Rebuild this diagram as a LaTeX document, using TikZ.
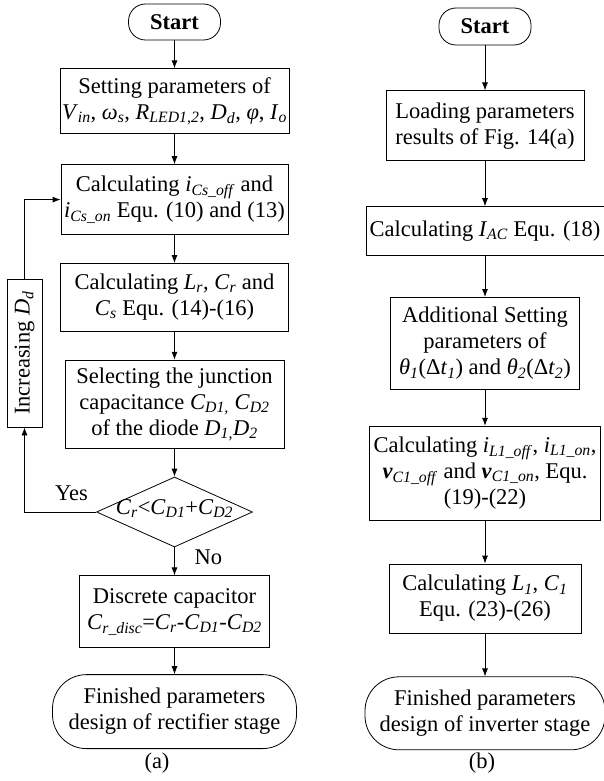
\documentclass[tikz,border=0pt]{standalone}
\usepackage{fontspec}
\setmainfont{Liberation Serif}
\usetikzlibrary{positioning, shapes.geometric, arrows.meta}
\newcommand{\vr}[2]{\textit{#1}\textsubscript{\textit{#2}}}

\begin{document}
\begin{tikzpicture}[
    x=1pt, y=-1pt,
    font=\fontsize{22.5}{26}\selectfont,
    box/.style={draw, line width=0.8pt, align=center, inner xsep=2pt, inner ysep=1pt},
    term/.style={box, rounded corners=17pt},
    decision/.style={diamond, draw, line width=0.8pt, aspect=2.2, inner sep=0pt, minimum width=156pt, minimum height=70pt},
    arrow/.style={-{Latex[length=8pt,width=6pt]}, line width=0.8pt},
    lbl/.style={inner sep=0pt}
]
\useasboundingbox (0,0) rectangle (603,781);

% (a) rectifier stage
\node[term, minimum width=92pt, minimum height=36pt] (startA) at (174.5,22) {\textbf{Start}};
\node[box, below=28pt of startA, minimum width=227pt, minimum height=65pt] (setA) {Setting parameters of\\\vr{V}{in}, \vr{ω}{s}, \vr{R}{LED1,2}, \vr{D}{d}, \textit{φ}, \vr{I}{o}};
\node[box, below=30pt of setA, minimum width=227pt, minimum height=70pt] (calcA) {Calculating \vr{i}{Cs\_off} and\\\vr{i}{Cs\_on} Equ. (10) and (13)};
\node[box, below=28pt of calcA, minimum width=228pt, minimum height=68pt] (lrA) {Calculating \vr{L}{r}, \vr{C}{r} and\\\vr{C}{s} Equ. (14)-(16)};
\node[box, below=28pt of lrA, minimum width=219pt, minimum height=88pt] (junctA) {Selecting the junction\\capacitance \vr{C}{D1,} \vr{C}{D2}\\of the diode \vr{D}{1,}\vr{D}{2}};
\node[decision, below=28pt of junctA] (decA) {\raisebox{-5pt}{\smash{\makebox[60pt]{\vr{C}{r}<\vr{C}{D1}+\vr{C}{D2}}}}};
\node[box, below=28pt of decA, minimum width=190pt, minimum height=72pt] (discA) {Discrete capacitor\\\vr{C}{r\_disc}=\vr{C}{r}-\vr{C}{D1}-\vr{C}{D2}};
\node[box, rounded corners=34pt, below=26pt of discA, minimum width=244pt, minimum height=74pt] (endA) {Finished parameters\\design of rectifier stage};
\node[box, minimum width=35pt, minimum height=148pt] (incA) at (24.5,353) {\rotatebox{90}{Increasing \vr{D}{d}}};
\node[lbl, above left=11pt and 8pt of decA.west] (yesA) {Yes};
\node[lbl, below right=2pt and 20pt of decA.south] (noA) {No};
\node[lbl] (capA) at (157,763) {(a)};

\draw[arrow] (startA) -- (setA);
\draw[arrow] (setA) -- (calcA);
\draw[arrow] (calcA) -- (lrA);
\draw[arrow] (lrA) -- (junctA);
\draw[arrow] (junctA) -- (decA);
\draw[arrow] (decA) -- (discA);
\draw[arrow] (discA) -- (endA);
\draw[arrow] (decA.west) -| (incA.south);
\draw[arrow] (incA.north) |- (calcA.west);

% (b) inverter stage
\node[term, minimum width=92pt, minimum height=37pt] (startB) at (485,26.5) {\textbf{Start}};
\node[box, below=45pt of startB, minimum width=198pt, minimum height=70pt] (loadB) {Loading parameters\\results of Fig. 14(a)};
\node[box, below=45pt of loadB, minimum width=238pt, minimum height=49pt] (iacB) {Calculating \vr{I}{AC} Equ. (18)};
\node[box, below=41pt of iacB, minimum width=189pt, minimum height=92pt] (addB) {Additional Setting\\parameters of\\\vr{θ}{1}(Δ\vr{t}{1}) and \vr{θ}{2}(Δ\vr{t}{2})};
\node[box, below=36pt of addB, minimum width=231pt, minimum height=94pt] (calcB) {Calculating \vr{i}{L1\_off}, \vr{i}{L1\_on},\\\textbf{\textit{v}}\textsubscript{\textit{C1\_off}} and \textbf{\textit{v}}\textsubscript{\textit{C1\_on}}, Equ.\\(19)-(22)};
\node[box, below=43pt of calcB, minimum width=192pt, minimum height=69pt] (lcB) {Calculating \vr{L}{1}, \vr{C}{1}\\Equ. (23)-(26)};
\node[box, rounded corners=34pt, below=43pt of lcB, minimum width=240pt, minimum height=73pt] (endB) {Finished parameters\\design of inverter stage};
\node[lbl] (capB) at (482,763) {(b)};

\draw[arrow] (startB) -- (loadB);
\draw[arrow] (loadB) -- (iacB);
\draw[arrow] (iacB) -- (addB);
\draw[arrow] (addB) -- (calcB);
\draw[arrow] (calcB) -- (lcB);
\draw[arrow] (lcB) -- (endB);
\end{tikzpicture}
\end{document}
